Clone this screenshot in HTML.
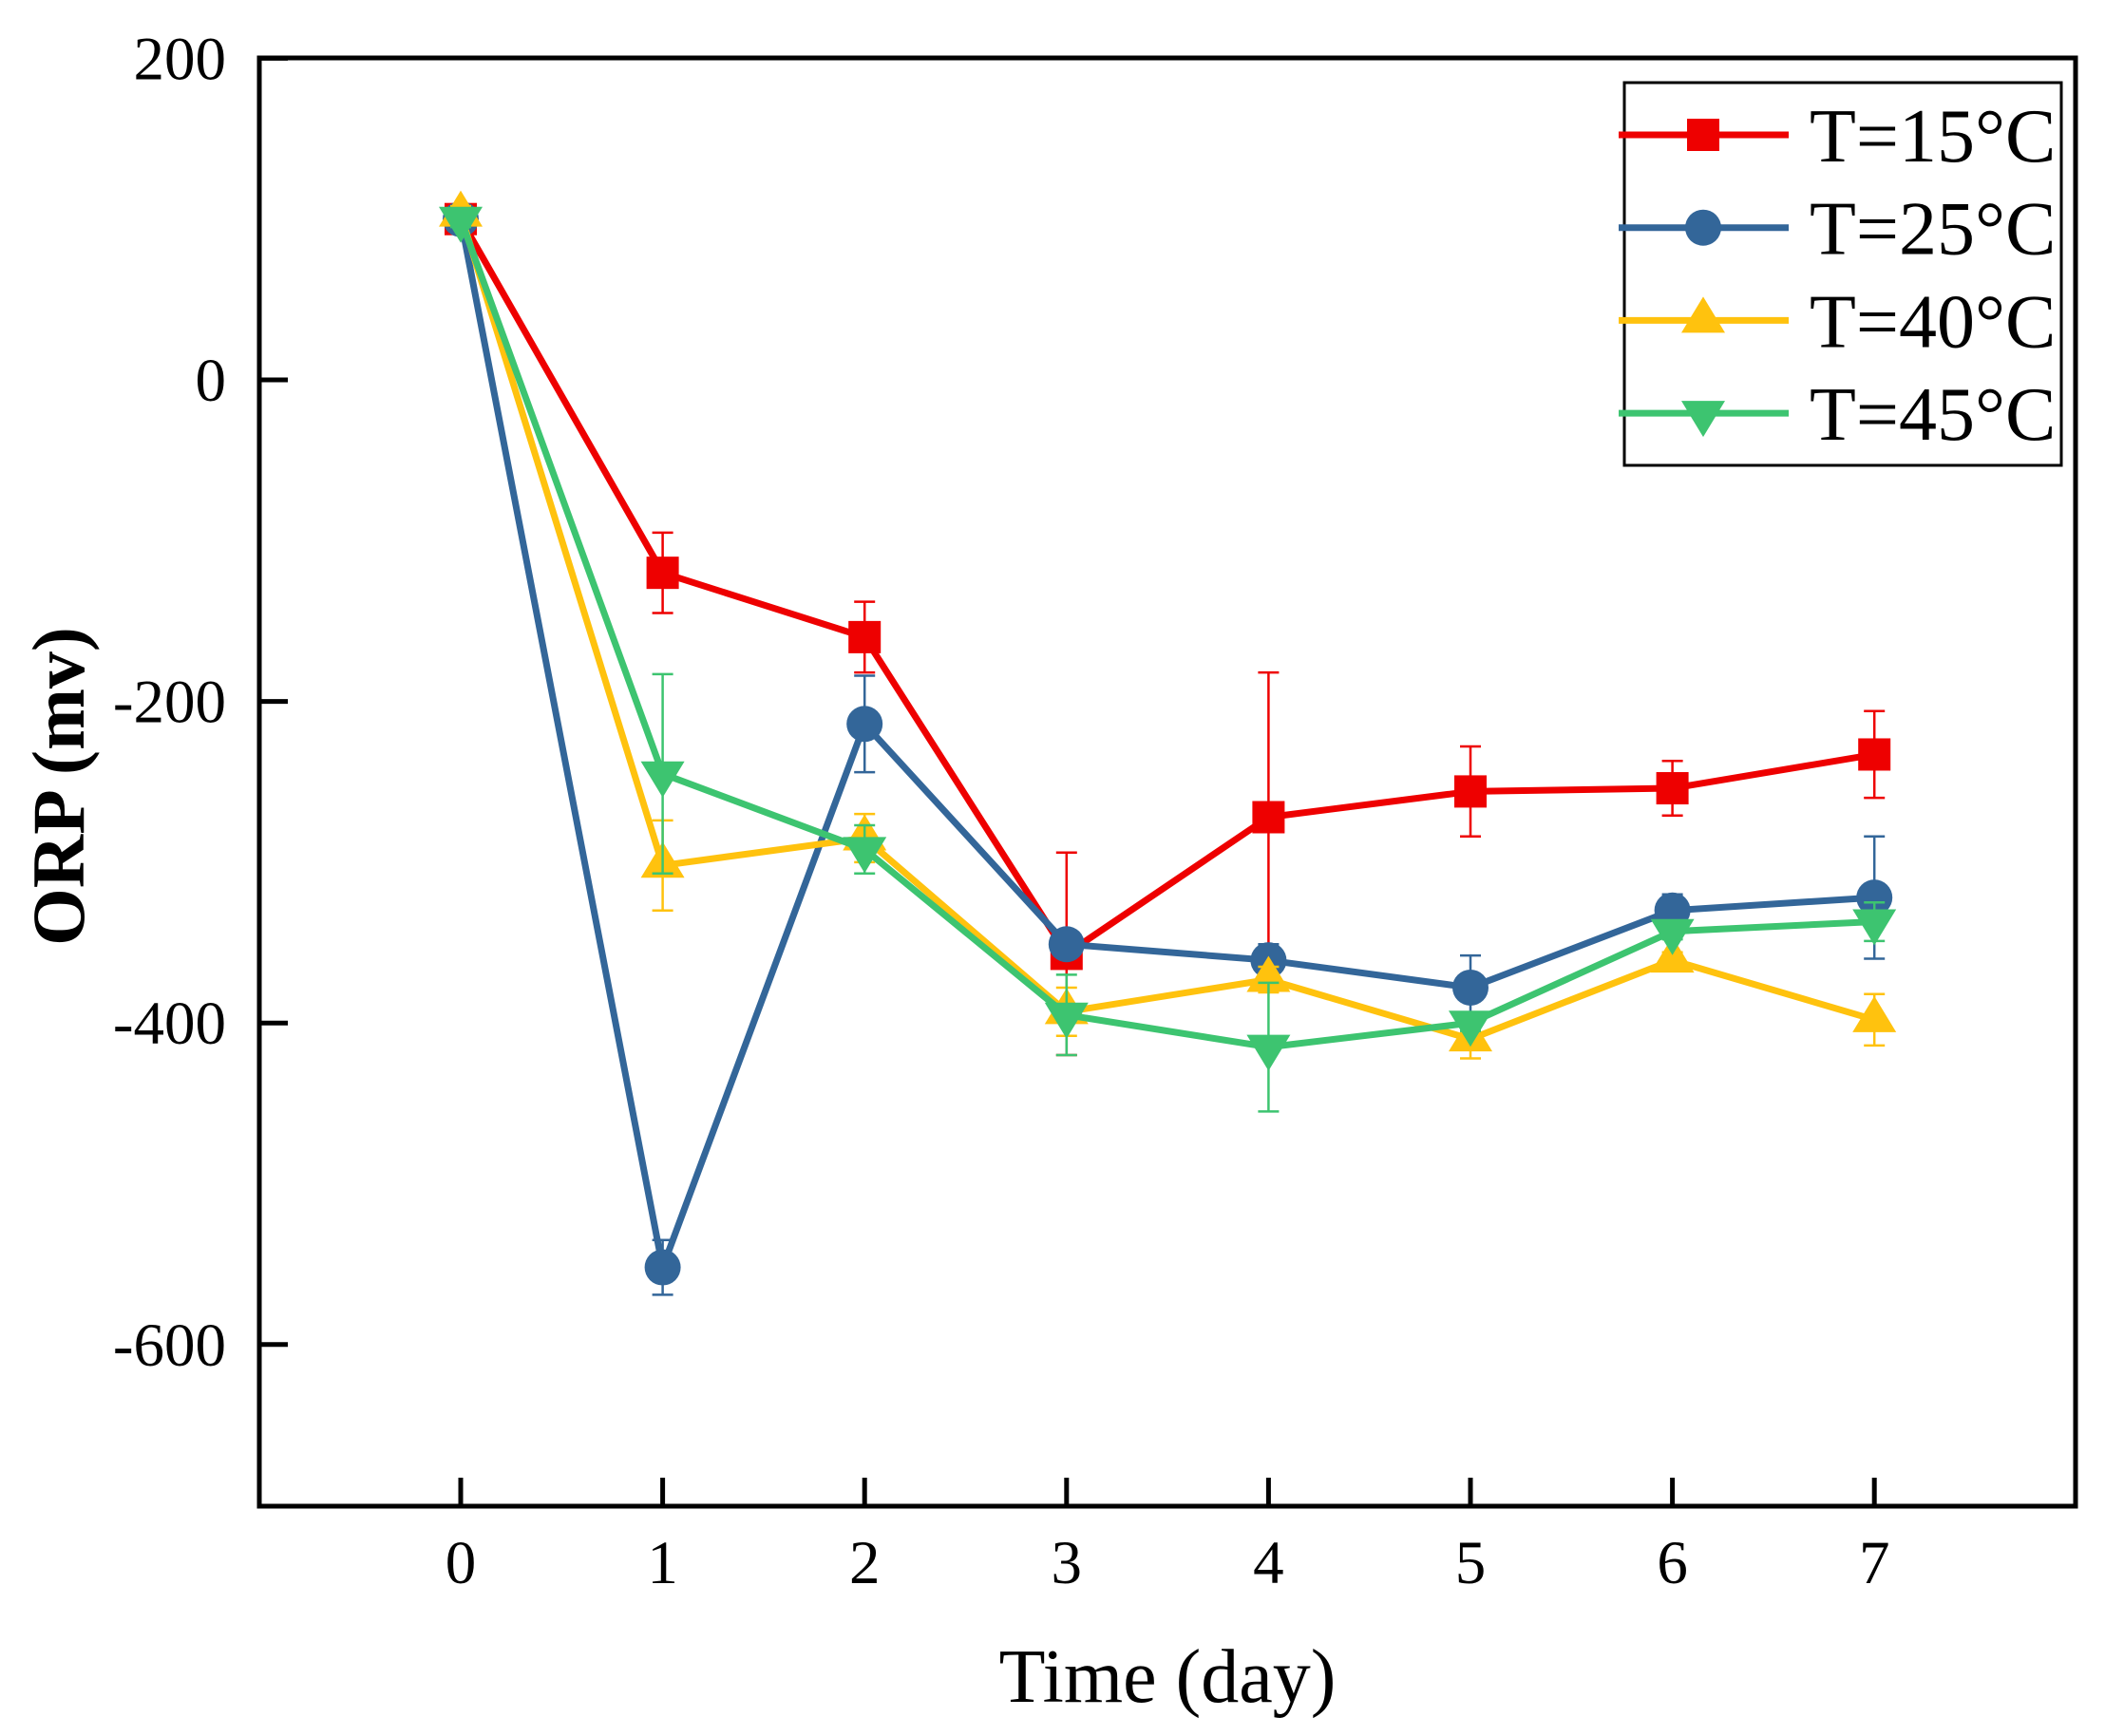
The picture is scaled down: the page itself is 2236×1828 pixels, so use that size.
<!DOCTYPE html>
<html><head><meta charset="utf-8"><style>
html,body{margin:0;padding:0;background:#fff}
svg{display:block}
text{font-family:"Liberation Serif",serif;fill:#000}
</style></head><body>
<svg id="chart" width="2236" height="1828" viewBox="0 0 2236 1828" xmlns="http://www.w3.org/2000/svg">
<g id="plot"></g>
<text x="1229" y="1792" font-size="80" text-anchor="middle">Time (day)</text>
<text transform="translate(88,828) rotate(-90)" font-size="78" font-weight="bold" text-anchor="middle">ORP (mv)</text>
</svg>
<script>
const days = [0,1,2,3,4,5,6,7];
const xTicks = ['0','1','2','3','4','5','6','7'];
const yTicks = [200,0,-200,-400,-600];
const seriesNames = ['T=15°C','T=25°C','T=40°C','T=45°C'];
const t15 = [100,-120,-160,-357,-272,-256,-254,-233];
const t15err = [5,25,22,63,90,28,17,27];
const t25 = [100,-552,-214,-351,-361,-378,-330,-322];
const t25err = [5,17,30,8,10,20,10,38];
const t40 = [103,-302,-285,-393,-373,-410,-361,-398];
const t40err = [5,28,15,15,8,12,5,16];
const t45 = [100,-245,-292,-395,-415,-400,-343,-337];
const t45err = [5,62,15,25,40,5,5,12];

const L=273,R=2185,T=61,B=1586;
const X=v=>485+(v)*212.6;
const Y=v=>400-v*1.693;
const ns='http://www.w3.org/2000/svg';
const plot=document.getElementById('plot');
function mk(tag,attrs,parent){const e=document.createElementNS(ns,tag);for(const k in attrs)e.setAttribute(k,attrs[k]);(parent||plot).appendChild(e);return e;}

yTicks.forEach(v=>{
  const t=mk('line',{x1:L,x2:L+30,y1:Y(v),y2:Y(v),stroke:'#000','stroke-width':5});
  
  
  const tx=mk('text',{x:238,y:Y(v)+22,'font-size':65,'text-anchor':'end'});
  tx.textContent=String(v);
  
  
});
days.forEach((d,i)=>{
  const t=mk('line',{x1:X(d),x2:X(d),y1:B,y2:B-30,stroke:'#000','stroke-width':5});
  
  
  const tx=mk('text',{x:X(d),y:1667,'font-size':65,'text-anchor':'middle'});
  tx.textContent=xTicks[i];
  
  
});

const series=[
 {vals:t15,err:t15err,color:'#ee0000',shape:'square',key:'15'},
 {vals:t25,err:t25err,color:'#336699',shape:'circle',key:'25'},
 {vals:t40,err:t40err,color:'#ffc20e',shape:'up',key:'40'},
 {vals:t45,err:t45err,color:'#3dc470',shape:'down',key:'45'}
];
function marker(shape,x,y,color,g){
  let m;
  if(shape==='square')m=mk('rect',{x:x-17,y:y-17,width:34,height:34,fill:color},g);
  else if(shape==='circle')m=mk('circle',{cx:x,cy:y,r:19,fill:color},g);
  else if(shape==='up')m=mk('polygon',{points:`${x},${y-25} ${x-23},${y+13} ${x+23},${y+13}`,fill:color},g);
  else m=mk('polygon',{points:`${x},${y+25} ${x-23},${y-13} ${x+23},${y-13}`,fill:color},g);
  return m;
}
series.forEach((s,si)=>{
  const g=mk('g',{});
  
  
  s.vals.forEach((v,i)=>{
    const x=X(days[i]),y1=Y(v+s.err[i]),y2=Y(v-s.err[i]);
    const e=mk('path',{d:`M${x},${y1}V${y2}M${x-11},${y1}H${x+11}M${x-11},${y2}H${x+11}`,stroke:s.color,'stroke-width':2.5,fill:'none'},g);
    
    
  });
  const pts=s.vals.map((v,i)=>X(days[i])+','+Y(v)).join(' ');
  const pl=mk('polyline',{points:pts,fill:'none',stroke:s.color,'stroke-width':7,'stroke-linejoin':'round'},g);
  
  
  s.vals.forEach((v,i)=>{
    const m=marker(s.shape,X(days[i]),Y(v),s.color,g);
    
    
  });
});

const fr=mk('rect',{x:L,y:T,width:R-L,height:B-T,fill:'none',stroke:'#000','stroke-width':5});



const lg=mk('g',{});


const lb=mk('rect',{x:1710,y:87,width:460,height:403,fill:'#fff',stroke:'#000','stroke-width':3},lg);


series.forEach((s,i)=>{
  const y=142+i*97.7;
  const e=mk('g',{},lg);
  
  
  mk('line',{x1:1704,x2:1883,y1:y,y2:y,stroke:s.color,'stroke-width':7},e);
  marker(s.shape,1793,y,s.color,e);
  const t=mk('text',{x:1905,y:y+28,'font-size':80},e);
  t.textContent=seriesNames[i];
});
</script>
</body></html>
